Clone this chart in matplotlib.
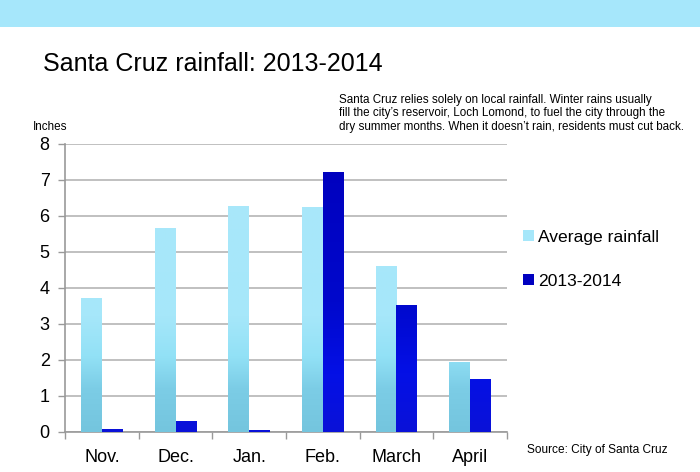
"""Santa Cruz rainfall: 2013-2014"""

import numpy as np
import matplotlib.pyplot as plt
from matplotlib.colors import LinearSegmentedColormap
from matplotlib.patches import Patch, Rectangle

plt.rcParams['font.family'] = ['Liberation Sans', 'DejaVu Sans']

# Data (inches)
months = ['Nov.', 'Dec.', 'Jan.', 'Feb.', 'March', 'April']
average = [3.73, 5.67, 6.28, 6.24, 4.62, 1.95]
season_2013 = [0.07, 0.30, 0.05, 7.23, 3.53, 1.46]
yticks = [0, 1, 2, 3, 4, 5, 6, 7, 8]

note = ("Santa Cruz relies solely on local rainfall. Winter rains usually\n"
        "fill the city\u2019s reservoir, Loch Lomond, to fuel the city through the\n"
        "dry summer months. When it doesn\u2019t rain, residents must cut back.")

light_cmap = LinearSegmentedColormap.from_list(
    'light', [(0.0, '#74c5de'), (0.15, '#7ccde6'), (0.26, '#92e1f6'),
              (0.4, '#a6e7fa'), (1.0, '#aae8fa')])
dark_cmap = LinearSegmentedColormap.from_list(
    'dark', [(0.0, '#0a12d8'), (0.2, '#0410e6'), (0.45, '#0008cc'),
             (1.0, '#0000bc')])

fig = plt.figure(figsize=(7, 4.72), dpi=100)
fig.patch.set_facecolor('white')

# light blue band at the top
fig.add_artist(Rectangle((0, 1 - 27 / 472), 1, 27 / 472, transform=fig.transFigure,
                         facecolor='#a6e7fb', edgecolor='none'))

ax = fig.add_axes([65 / 700, 40 / 472, 442 / 700, 288 / 472])

x = np.arange(len(months))
w = 0.285
bars1 = ax.bar(x - w / 2, average, w, color='#a6e7fa', zorder=2)
bars2 = ax.bar(x + w / 2, season_2013, w, color='#0000c0', zorder=2)

# vertical gradient on the bars (same scale for all bars)
grad = np.linspace(0, 1, 256).reshape(-1, 1)
for bars, cmap in [(bars1, light_cmap), (bars2, dark_cmap)]:
    for b in bars:
        h = b.get_height()
        frac = grad[: max(2, int(256 * h / 8))]
        im = ax.imshow(frac, cmap=cmap, vmin=0, vmax=1, origin='lower', aspect='auto',
                       extent=(b.get_x(), b.get_x() + b.get_width(), 0, h), zorder=3)
        im.set_clip_path(b)

ax.set_xlim(-0.5, len(months) - 0.5)
ax.set_ylim(0, 8)
ax.set_yticks(yticks)
ax.set_xticks(x)
ax.set_xticklabels(months, fontsize=13)
ax.set_xticks(np.arange(-0.5, len(months)), minor=True)
ax.tick_params(axis='x', which='major', length=0, pad=12)
ax.tick_params(axis='x', which='minor', length=5, color='#999999', width=1)
ax.tick_params(axis='y', labelsize=13, length=5, color='#999999', width=1, pad=6)
ax.grid(axis='y', color='#b5b5b5', linewidth=1.2, zorder=0)
ax.set_axisbelow(True)
for s in ['top', 'right']:
    ax.spines[s].set_visible(False)
for s in ['left', 'bottom']:
    ax.spines[s].set_color('#999999')
    ax.spines[s].set_linewidth(1.2)

handles = [Patch(facecolor='#a6e7fa', label='Average rainfall'),
           Patch(facecolor='#0000c0', label='2013-2014')]
fig.legend(handles=handles, loc='upper left', bbox_to_anchor=(516 / 700, 1 - 223 / 472),
           frameon=False, fontsize=12.6, handlelength=0.6, handleheight=0.6,
           handletextpad=0.25, labelspacing=1.65, borderaxespad=0)

fig.text(43 / 700, 1 - 64 / 472, 'Santa Cruz rainfall: 2013-2014', fontsize=18,
         va='center', ha='left')
fig.text(339 / 700, 1 - 94 / 472, note, fontsize=8.4, va='top', ha='left', linespacing=1.15)
fig.text(33 / 700, 1 - 127 / 472, 'Inches', fontsize=8.4, va='center', ha='left')
fig.text(527 / 700, 1 - 450 / 472, 'Source: City of Santa Cruz', fontsize=8.6,
         va='center', ha='left')

plt.savefig('out.png', dpi=100)
